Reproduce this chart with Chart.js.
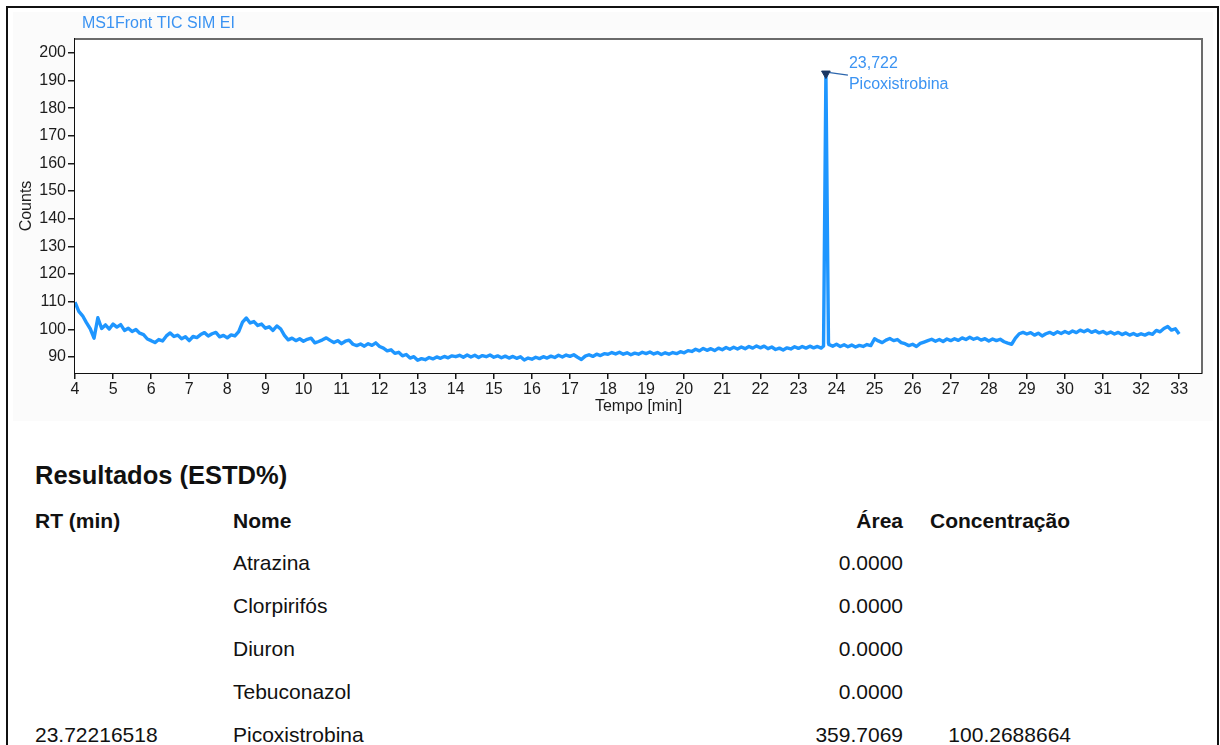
<!DOCTYPE html>
<html lang="pt">
<head>
<meta charset="utf-8">
<title>MS1Front TIC SIM EI</title>
<script src="https://cdn.jsdelivr.net/npm/chart.js@4.4.1/dist/chart.umd.min.js"></script>
<style>
  html, body { margin: 0; padding: 0; background: #ffffff; }
  body {
    width: 1220px; height: 745px; position: relative; overflow: hidden;
    font-family: "Liberation Sans", Arial, Helvetica, sans-serif; color: #111111;
  }
  #frame { position: absolute; left: 6px; top: 6px; width: 1209px; height: 800px; border: 2px solid #111111; }
  #backdrop { position: absolute; left: 13px; top: 12px; width: 1200px; height: 409px; background: #fbfbfb; }
  #chartBox { position: absolute; left: 12px; top: 10px; width: 1204px; height: 414px; }
  .cell { position: absolute; white-space: nowrap; font-size: 21px; line-height: 24px; }
  .head { font-weight: bold; }
  .right { text-align: right; }
  #resultsTitle { position: absolute; left: 35px; top: 461px; font-size: 25.5px; line-height: 28px; font-weight: bold; white-space: nowrap; }
</style>
</head>
<body>
<div id="frame"></div>
<div id="backdrop"></div>
<div id="chartBox"><canvas id="tic"></canvas></div>
<div id="resultsTitle">Resultados (ESTD%)</div>
<div id="results"></div>

<script>
// ---- Chromatogram: TIC counts sampled every 0.1 min from 4.0 min ----
const timeStart = 4.0;
const timeStep = 0.1;

// 4.0 – 10.9 min
const countsA = [
  109.8, 106.5, 104.9, 102.4, 100.2, 96.8, 104.2, 100.3, 101.6, 100.1,
  101.9, 100.8, 101.7, 99.6, 100.4, 99.2, 99.9, 98.6, 98.1, 96.5,
  95.9, 95.2, 96.3, 95.8, 97.6, 98.7, 97.4, 97.9, 96.6, 97.3,
  95.9, 97.4, 97.0, 98.1, 98.8, 97.6, 98.4, 98.9, 97.3, 97.8,
  96.9, 98.0, 97.6, 99.2, 102.6, 104.1, 102.3, 102.8, 101.4, 101.9,
  100.4, 100.9, 99.6, 101.2, 100.2, 97.8, 96.2, 96.8, 95.9, 96.6,
  95.7, 96.4, 96.8, 95.1, 95.6, 96.2, 96.9, 96.0, 95.2, 95.9
];
// 11.0 – 17.9 min
const countsB = [
  94.8, 95.7, 96.1, 94.6, 94.1, 94.7, 93.9, 94.8, 94.2, 95.1,
  93.8, 93.2, 92.2, 92.6, 91.3, 91.7, 90.4, 90.9, 89.6, 90.1,
  88.8, 89.4, 89.0, 89.8, 89.3, 90.0, 89.5, 90.2, 89.7, 90.4,
  90.1, 90.6, 89.9, 90.7, 90.0, 90.6, 89.8, 90.5, 90.1, 90.7,
  89.9, 90.4, 89.7, 90.3, 89.6, 90.2, 89.5, 90.1, 88.9, 89.6,
  89.2, 89.9, 89.4, 90.1, 89.6, 90.3, 89.8, 90.6, 90.0, 90.7,
  90.2, 90.8, 89.9, 89.1, 90.3, 90.8, 90.2, 91.0, 90.5, 91.2
];
// 18.0 – 24.9 min
const countsC = [
  91.0, 91.6, 91.1, 91.7, 91.0, 91.5, 90.8, 91.4, 91.0, 91.7,
  91.2, 91.8, 91.1, 91.6, 90.9, 91.5, 91.0, 91.6, 91.2, 91.9,
  91.5, 92.3, 92.0, 92.8, 92.2, 93.1, 92.4, 93.0, 92.3, 93.2,
  92.6, 93.4, 92.8, 93.5, 92.9, 93.6, 93.0, 93.8, 93.2, 94.0,
  93.3, 93.9, 93.0, 93.6, 92.7, 93.2, 92.5, 93.3, 92.9, 93.7,
  93.1, 93.8, 93.2, 93.9, 93.3, 93.8, 93.2, 93.6, 94.5, 93.9,
  94.6, 93.8, 94.4, 93.7, 94.3, 93.6, 94.2, 93.8, 94.5, 94.1
];
// 25.0 – 33.0 min
const countsD = [
  96.6, 95.8, 95.2, 96.1, 96.7, 95.9, 96.3, 95.2, 94.8, 94.1,
  94.6, 93.8, 94.9, 95.4, 95.9, 96.4, 95.7, 96.3, 95.6, 96.5,
  95.9, 96.6, 96.0, 96.9, 96.3, 97.1, 96.4, 96.9, 96.1, 96.6,
  95.8, 96.5, 95.9, 96.4, 95.5, 95.0, 94.6, 96.8, 98.4, 98.9,
  98.3, 98.8, 97.9, 98.6, 97.6, 98.4, 98.9, 98.2, 99.1, 98.5,
  99.2, 98.6, 99.4, 98.8, 99.7, 99.1, 99.8, 98.9, 99.5, 98.7,
  99.2, 98.4, 99.0, 98.3, 98.9, 98.1, 98.7, 97.9, 98.5, 97.8,
  98.4, 97.9, 98.6, 98.2, 99.6, 99.1, 100.3, 101.0, 99.7, 100.2,
  98.3
];

// Picoxistrobina peak: rise, apex, fall
const peakTimes = [23.66, 23.72216518, 23.79];
const peakCounts = [94.0, 192.5, 95.0];
const peakName = 'Picoxistrobina';

// Axis ticks
const timeTicks = [4, 5, 6, 7, 8, 9, 10, 11, 12, 13, 14, 15, 16, 17, 18,
                   19, 20, 21, 22, 23, 24, 25, 26, 27, 28, 29, 30, 31, 32, 33];
const countTicks = [90, 100, 110, 120, 130, 140, 150, 160, 170, 180, 190, 200];

const chartTitle = 'MS1Front TIC SIM EI';
const xTitle = 'Tempo [min]';
const yTitle = 'Counts';

// Results table (ESTD%)
const compoundNames = ['Atrazina', 'Clorpirifós', 'Diuron', 'Tebuconazol', 'Picoxistrobina'];
const retentionTimes = ['', '', '', '', '23.72216518'];
const peakAreas = ['0.0000', '0.0000', '0.0000', '0.0000', '359.7069'];
const concentrations = ['', '', '', '', '100.2688664'];

// ---- styles ----
const FONT = '"Liberation Sans", Arial, Helvetica, sans-serif';
const TRACE_BLUE = '#1e96ff';
const LABEL_BLUE = '#3b93f2';
const INK = '#1c1c1c';

// Assemble the trace, splicing the peak into the sampled baseline
const baseline = [].concat(countsA, countsB, countsC, countsD);
const trace = [];
baseline.forEach((c, i) => {
  const t = +(timeStart + i * timeStep).toFixed(2);
  if (t > peakTimes[0] && t < peakTimes[peakTimes.length - 1]) return;
  trace.push({ x: t, y: c });
});
peakTimes.forEach((t, i) => trace.push({ x: t, y: peakCounts[i] }));
trace.sort((a, b) => a.x - b.x);

const apex = { x: peakTimes[1], y: peakCounts[1] };
const apexLabel = peakTimes[1].toFixed(3).replace('.', ',');

// Plot background, frame, titles and peak annotation
const decorations = {
  id: 'decorations',
  beforeDatasetsDraw(chart) {
    const { ctx, chartArea: a } = chart;
    ctx.save();
    ctx.fillStyle = '#ffffff';
    ctx.fillRect(a.left, a.top, a.right - a.left, a.bottom - a.top);
    ctx.restore();
  },
  afterDraw(chart) {
    const { ctx, chartArea: a, scales: { x, y } } = chart;
    ctx.save();
    ctx.strokeStyle = '#6a6a6a';
    ctx.lineWidth = 2;
    ctx.beginPath();
    ctx.moveTo(a.left, a.top);
    ctx.lineTo(a.right, a.top);
    ctx.lineTo(a.right, a.bottom);
    ctx.stroke();

    ctx.font = '16px ' + FONT;
    ctx.textBaseline = 'middle';
    ctx.textAlign = 'left';
    ctx.fillStyle = LABEL_BLUE;
    ctx.fillText(chartTitle, a.left + 7, a.top - 15);

    ctx.fillStyle = INK;
    ctx.textAlign = 'center';
    ctx.fillText(xTitle, (a.left + a.right) / 2, a.bottom + 34);
    ctx.save();
    ctx.translate(15, (a.top + a.bottom) / 2);
    ctx.rotate(-Math.PI / 2);
    ctx.fillText(yTitle, 0, 0);
    ctx.restore();

    const px = x.getPixelForValue(apex.x);
    const py = y.getPixelForValue(apex.y);
    ctx.strokeStyle = '#2c66ad';
    ctx.lineWidth = 1.2;
    ctx.beginPath();
    ctx.moveTo(px + 4, py - 1);
    ctx.lineTo(px + 22, py + 1.5);
    ctx.stroke();
    ctx.fillStyle = LABEL_BLUE;
    ctx.textAlign = 'left';
    ctx.fillText(apexLabel, px + 23, py - 10);
    ctx.fillText(peakName, px + 23, py + 11.5);
    ctx.restore();
  }
};

Chart.defaults.font.family = FONT;

const axisGrid = { display: true, drawOnChartArea: false, drawTicks: true, color: '#1a1a1a', lineWidth: 1.5 };

new Chart(document.getElementById('tic'), {
  type: 'scatter',
  data: {
    datasets: [
      {
        data: trace, showLine: true, borderColor: TRACE_BLUE, borderWidth: 3.4,
        borderJoinStyle: 'round', pointRadius: 0, tension: 0, order: 2
      },
      {
        data: [apex], showLine: false, pointStyle: 'triangle', rotation: 180,
        pointRadius: 5, backgroundColor: '#1b3763', borderColor: '#1b3763', borderWidth: 1, order: 1
      }
    ]
  },
  options: {
    responsive: true, maintainAspectRatio: false, animation: false, devicePixelRatio: 1,
    events: [],
    layout: { padding: { top: 29, right: 14, bottom: 0, left: 0 } },
    plugins: { legend: { display: false }, tooltip: { enabled: false }, title: { display: false } },
    scales: {
      x: {
        type: 'linear', min: 4, max: 33.6,
        afterBuildTicks: s => { s.ticks = timeTicks.map(v => ({ value: v })); },
        afterFit: s => { s.height = 51; },
        grid: Object.assign({}, axisGrid, { tickLength: 6 }),
        border: { display: true, color: '#111111', width: 2 },
        ticks: { color: INK, font: { size: 16 }, padding: 1, maxRotation: 0, autoSkip: false, callback: v => String(v) }
      },
      y: {
        type: 'linear', min: 84.2, max: 205,
        afterBuildTicks: s => { s.ticks = countTicks.map(v => ({ value: v })); },
        afterFit: s => { s.width = 63; },
        grid: Object.assign({}, axisGrid, { tickLength: 7 }),
        border: { display: true, color: '#111111', width: 2 },
        ticks: { color: INK, font: { size: 16 }, padding: 2, autoSkip: false, callback: v => String(v) }
      }
    }
  },
  plugins: [decorations]
});

// Results table
const results = document.getElementById('results');
function cell(text, style, cls) {
  const d = document.createElement('div');
  d.className = 'cell' + (cls ? ' ' + cls : '');
  d.textContent = text;
  Object.assign(d.style, style);
  results.appendChild(d);
}
const headTop = 509, rowTop = 551, rowGap = 43;
cell('RT (min)', { left: '35px', top: headTop + 'px' }, 'head');
cell('Nome', { left: '233px', top: headTop + 'px' }, 'head');
cell('Área', { right: '317px', top: headTop + 'px' }, 'head right');
cell('Concentração', { left: '930px', top: headTop + 'px' }, 'head');
compoundNames.forEach((name, i) => {
  const top = (rowTop + i * rowGap) + 'px';
  if (retentionTimes[i]) cell(retentionTimes[i], { left: '35px', top });
  cell(name, { left: '233px', top });
  cell(peakAreas[i], { right: '317px', top }, 'right');
  if (concentrations[i]) cell(concentrations[i], { right: '149px', top }, 'right');
});
</script>
</body>
</html>
